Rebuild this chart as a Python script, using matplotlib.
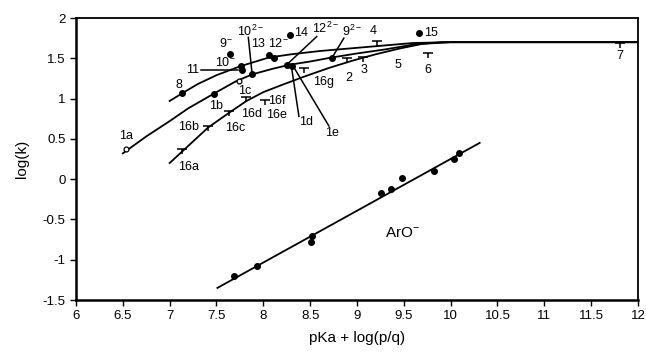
import numpy as np
import matplotlib
matplotlib.use('Agg')
import matplotlib.pyplot as plt
from matplotlib.path import Path

plt.rcParams['font.family'] = ['Liberation Sans', 'DejaVu Sans']
plt.rcParams['mathtext.default'] = 'regular'

# curves
top_x = [7.0, 7.14, 7.3, 7.5, 7.75, 8.06, 8.3, 8.6, 9.0, 9.3, 9.6, 10.0, 12.0]
top_y = [0.97, 1.07, 1.18, 1.29, 1.40, 1.51, 1.55, 1.59, 1.63, 1.66, 1.69, 1.70, 1.70]
mid_x = [6.5, 6.75, 7.0, 7.2, 7.47, 7.7, 7.88, 8.1, 8.28, 8.5, 8.73, 9.0, 9.3, 9.6, 9.9, 12.0]
mid_y = [0.32, 0.53, 0.72, 0.88, 1.06, 1.21, 1.30, 1.37, 1.42, 1.46, 1.51, 1.56, 1.61, 1.67, 1.70, 1.70]
low_x = [7.0, 7.14, 7.41, 7.63, 7.82, 8.0, 8.2, 8.43, 8.7, 8.95, 9.2, 9.45, 9.7, 10.0, 12.0]
low_y = [0.20, 0.35, 0.64, 0.82, 0.97, 1.08, 1.17, 1.27, 1.38, 1.47, 1.55, 1.62, 1.68, 1.70, 1.70]

# ArO- series
aro_x = [7.69, 7.93, 8.52, 8.51, 9.26, 9.36, 9.48, 9.82, 10.04, 10.09]
aro_y = [-1.20, -1.08, -0.70, -0.78, -0.17, -0.12, 0.01, 0.10, 0.25, 0.33]
aro_line_x = [7.51, 10.31]
aro_line_y = [-1.35, 0.45]

# markers
dot_x = [7.13, 7.47, 7.64, 7.76, 7.77, 7.88, 8.06, 8.11, 8.28, 8.25, 8.31, 8.73, 9.66]
dot_y = [1.07, 1.06, 1.55, 1.40, 1.355, 1.31, 1.54, 1.50, 1.79, 1.42, 1.41, 1.50, 1.81]
open_x = [6.53, 7.74]
open_y = [0.37, 1.22]
tee_x = [7.13, 7.41, 7.63, 7.82, 8.02, 8.43, 8.89, 9.06, 9.21, 9.76, 11.81]
tee_y = [0.35, 0.64, 0.82, 0.99, 0.96, 1.355, 1.48, 1.49, 1.69, 1.54, 1.665]

# labels
lab_text = ['1a', '16a', '16b', '16c', '1b', '8', '11', '10$^{-}$', '9$^{-}$', '10$^{2-}$',
            '13', '12$^{-}$', '14', '12$^{2-}$', '9$^{2-}$', '4', '15', '1c', '16d', '16f',
            '16e', '16g', '2', '3', '5', '6', '7', '1d', '1e']
lab_x = [6.54, 7.2, 7.2, 7.70, 7.50, 7.10, 7.25, 7.59, 7.6, 7.86,
         7.94, 8.16, 8.40, 8.67, 8.95, 9.17, 9.79, 7.80, 7.87, 8.14,
         8.14, 8.64, 8.91, 9.07, 9.44, 9.76, 11.81, 8.46, 8.73]
lab_y = [0.54, 0.15, 0.65, 0.64, 0.91, 1.17, 1.355, 1.45, 1.68, 1.84,
         1.68, 1.68, 1.82, 1.87, 1.84, 1.84, 1.81, 1.09, 0.81, 0.97,
         0.80, 1.21, 1.26, 1.355, 1.42, 1.36, 1.53, 0.71, 0.57]

# leader lines (x0, y0, x1, y1)
leaders = [(7.33, 1.36, 7.73, 1.36),
           (7.84, 1.76, 7.88, 1.31),
           (8.57, 1.77, 8.25, 1.42),
           (8.86, 1.75, 8.73, 1.50),
           (8.38, 0.78, 8.30, 1.40),
           (8.70, 0.66, 8.32, 1.40)]

tee = Path([(-1, 0.5), (1, 0.5), (0, 0.5), (0, -0.6)],
           [Path.MOVETO, Path.LINETO, Path.MOVETO, Path.LINETO])

fig = plt.figure(figsize=(6.46, 3.56), dpi=100)
ax = fig.add_axes([0.1176, 0.1573, 0.87, 0.7921])

for xs, ys in [(top_x, top_y), (mid_x, mid_y), (low_x, low_y)]:
    ax.plot(xs, ys, color='black', lw=1.3, solid_joinstyle='round')
ax.plot(aro_line_x, aro_line_y, color='black', lw=1.3)
ax.plot(aro_x, aro_y, 'o', color='black', ms=4)

ax.plot(dot_x, dot_y, 'o', color='black', ms=4)
ax.plot(open_x, open_y, 'o', mfc='white', mec='black', ms=3.5, mew=0.9)
ax.plot(tee_x, tee_y, ls='none', marker=tee, color='black', ms=6.5, mew=1.1)

for x0, y0, x1, y1 in leaders:
    ax.plot([x0, x1], [y0, y1], color='black', lw=1.1)

for t, x, y in zip(lab_text, lab_x, lab_y):
    ax.text(x, y, t, ha='center', va='center', fontsize=9)

ax.text(9.49, -0.67, 'ArO$^{-}$', ha='center', va='center', fontsize=11)

ax.set_xlim(6, 12)
ax.set_ylim(-1.5, 2)
ax.set_xticks(np.arange(6, 12.01, 0.5))
ax.set_xticklabels(['6', '6.5', '7', '7.5', '8', '8.5', '9', '9.5', '10', '10.5', '11', '11.5', '12'])
ax.set_yticks(np.arange(-1.5, 2.01, 0.5))
ax.set_yticklabels(['-1.5', '-1', '-0.5', '0', '0.5', '1', '1.5', '2'])
ax.tick_params(direction='out', length=4, width=1, labelsize=9.5)
for side in ['left', 'bottom']:
    ax.spines[side].set_linewidth(1.8)
for side in ['top', 'right']:
    ax.spines[side].set_linewidth(1.3)

ax.set_xlabel('pKa + log(p/q)', fontsize=11, labelpad=6)
ax.set_ylabel('log(k)', fontsize=11, labelpad=10)

plt.savefig('out.png', dpi=100)
